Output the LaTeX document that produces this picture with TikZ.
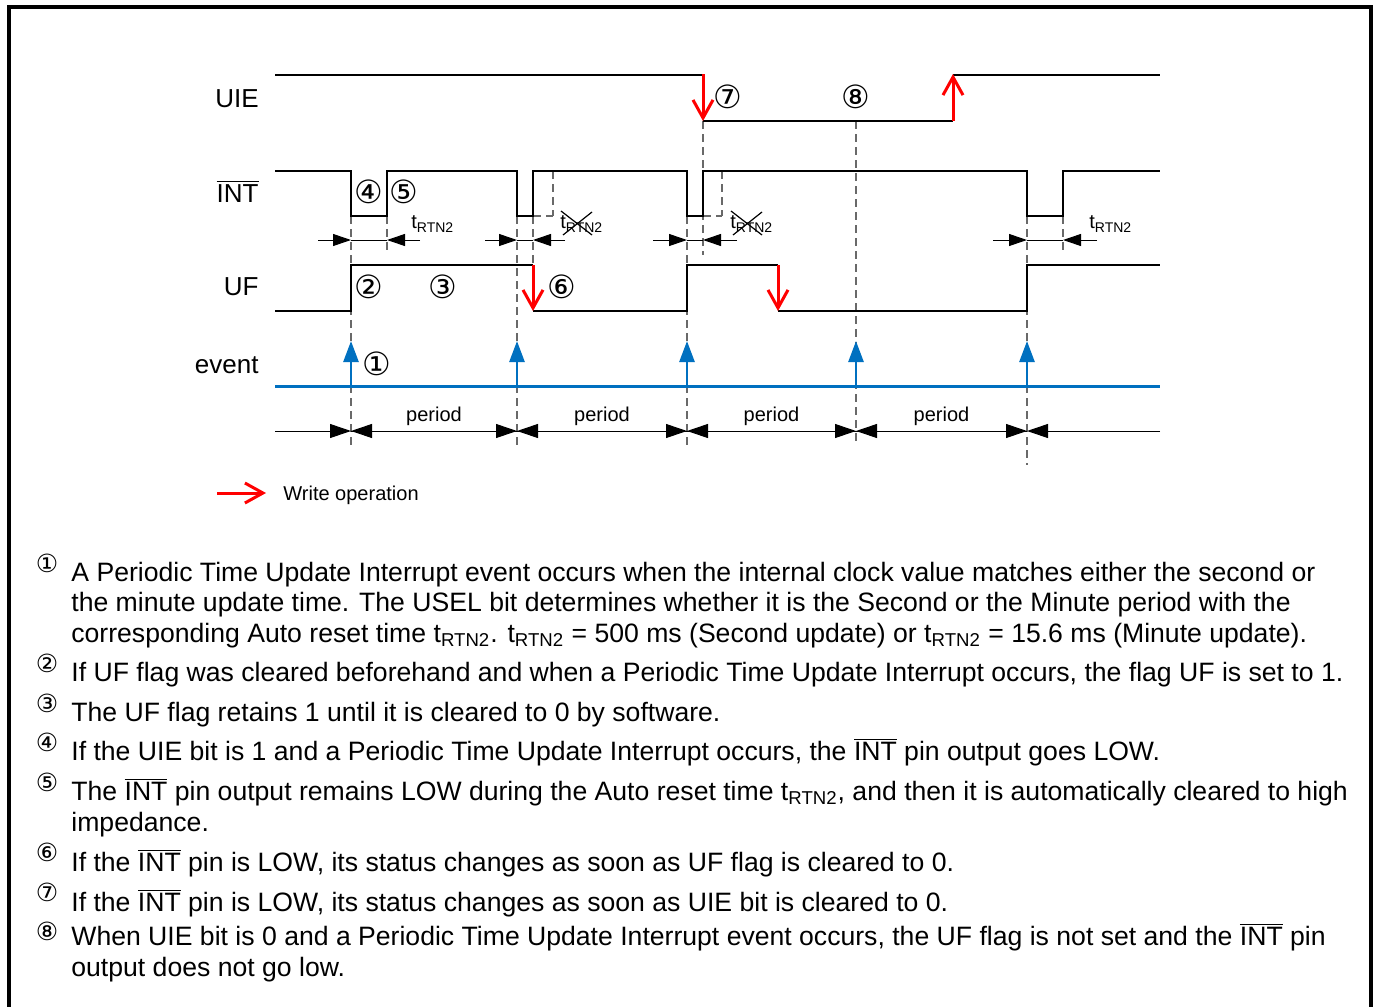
\documentclass[tikz,border=0pt]{standalone}
\usepackage{fontspec}
\setmainfont{Liberation Sans}
\newfontfamily\circfont{DejaVu Sans}
\usetikzlibrary{arrows.meta}
\definecolor{evblue}{RGB}{0,112,192}
\definecolor{guidegray}{RGB}{105,105,105}
\newcommand{\cnum}[1]{{\circfont #1}}
\newcommand{\intbar}{$\overline{\mbox{INT}}$}
\newcommand{\trtn}{t\textsubscript{RTN2}}
\newcommand{\trtnd}{{\fontsize{10}{12}\selectfont t}\raisebox{-2pt}{\fontsize{7}{8}\selectfont RTN2}}
\begin{document}
\begin{tikzpicture}[
  x=0.5pt, y=-0.5pt,
  sig/.style={line width=1.4pt},
  wr/.style={draw=red, line width=1.5pt, -{Straight Barb[length=9pt,width=10pt]}},
  ev/.style={draw=evblue, line width=1.3pt, -{Triangle[length=10.5pt,width=7.5pt]}},
  guide/.style={draw=guidegray, line width=0.7pt, dash pattern=on 3.75pt off 2.75pt},
  dimsmall/.style={line width=0.5pt, -{Triangle[length=9pt,width=6pt]}},
  dimbig/.style={line width=0.5pt, -{Triangle[length=10.5pt,width=7pt]}},
  lbl/.style={font=\fontsize{13}{15}\selectfont, anchor=base east, inner sep=0pt},
  cn/.style={font=\fontsize{16}{18}\selectfont\circfont, inner sep=0pt},
  cnb/.style={font=\fontsize{12.5}{14}\selectfont\circfont, inner sep=0pt},
  body/.style={font=\fontsize{13.3}{16}\selectfont, anchor=base west, inner sep=0pt},
  small/.style={font=\fontsize{10}{12}\selectfont, inner sep=0pt}
]
\useasboundingbox (0,0) rectangle (1377,1007);
\draw[line width=1.8pt] (9,1007) -- (9,7) -- (1371,7) -- (1371,1007);

\node[lbl] (uie) at (259,107) {UIE};
\node[lbl] (int) at (259,202) {\intbar};
\node[lbl] (uf) at (259,295) {UF};
\node[lbl] (event) at (259,373) {event};

\foreach \x/\ya/\yb in {351/216/445, 387/216/252, 517/216/445, 533/216/265, 687/216/445,
  703/121/255, 856/121/445, 1027/216/465, 1063/216/252, 553/171/216, 722/171/216}
  \draw[guide] (\x,\ya) -- (\x,\yb);
\draw[guide] (533,216) -- (553,216);
\draw[guide] (703,216) -- (722,216);

\draw[sig] (275,75) -- (703,75) (703,121) -- (953,121) (953,75) -- (1160,75);
\draw[sig] (275,171) -| (351,216) -| (387,171) -| (517,216) -| (533,171) -| (687,216)
  -| (703,171) -| (1027,216) -| (1063,171) -- (1160,171);
\draw[sig] (275,311) -| (351,265) -- (533,265) (533,311) -| (687,265) -- (778,265)
  (778,311) -| (1027,265) -- (1160,265);

\draw[wr] (703,74) -- (703,121);
\draw[wr] (953,121) -- (953,74);
\draw[wr] (533,265) -- (533,311);
\draw[wr] (778,265) -- (778,311);

\draw[draw=evblue, line width=1.5pt] (275,386) -- (1160,386);
\foreach \x in {351,517,687,856,1027}
  \draw[ev] (\x,386) -- (\x,341);

\foreach \l/\a/\b/\r in {318/351/387/420, 485/517/533/565, 653/687/703/737, 993/1027/1063/1097} {
  \draw[dimsmall] (\l,240) -- (\a,240);
  \draw[line width=0.5pt] (\a,240) -- (\b,240);
  \draw[dimsmall] (\r,240) -- (\b,240);
}
\node[anchor=base west, inner sep=0pt] (t1) at (411,228) {\trtnd};
\node[anchor=base west, inner sep=0pt] (t2) at (560,228) {\trtnd};
\node[anchor=base west, inner sep=0pt] (t3) at (730,228) {\trtnd};
\node[anchor=base west, inner sep=0pt] (t4) at (1089,228) {\trtnd};
\draw[line width=0.6pt] (561,211) -- (592,235) (563,235) -- (592,212);
\draw[line width=0.6pt] (731,211) -- (762,235) (733,235) -- (762,212);

\draw[dimbig] (275,431) -- (351,431);
\foreach \a/\b in {351/517, 517/687, 687/856, 856/1027} {
  \draw[dimbig] (\b,431) -- (\a,431);
  \draw[dimbig] (\a,431) -- (\b,431);
  \node[small, anchor=base] (p\a) at ({(\a+\b)/2},421) {period};
}
\draw[dimbig] (1160,431) -- (1027,431);

\node[cn] (c1) at (377,364) {①};
\node[cn] (c2) at (369,287) {②};
\node[cn] (c3) at (443,287) {③};
\node[cn] (c4) at (369,192) {④};
\node[cn] (c5) at (404,192) {⑤};
\node[cn] (c6) at (562,287) {⑥};
\node[cn] (c7) at (728,97) {⑦};
\node[cn] (c8) at (856,97) {⑧};

\draw[wr] (217,493) -- (266,493);
\node[small, anchor=base west] (legend) at (283,500) {Write operation};

\node[cnb] (b1) at (47,563) {①};
\node[cnb] (b2) at (47,663) {②};
\node[cnb] (b3) at (47,703) {③};
\node[cnb] (b4) at (47,742) {④};
\node[cnb] (b5) at (47,782) {⑤};
\node[cnb] (b6) at (47,852) {⑥};
\node[cnb] (b7) at (47,892) {⑦};
\node[cnb] (b8) at (47,931) {⑧};

\node[body] (n1a) at (71,581) {A Periodic Time Update Interrupt event occurs when the internal clock value matches either the second or};
\node[body] (n1b) at (71,611) {the minute update time. The USEL bit determines whether it is the Second or the Minute period with the};
\node[body] (n1c) at (71,642) {corresponding Auto reset time \trtn. \trtn{} = 500 ms (Second update) or \trtn{} = 15.6 ms (Minute update).};
\node[body] (n2) at (71,681) {If UF flag was cleared beforehand and when a Periodic Time Update Interrupt occurs, the flag UF is set to 1.};
\node[body] (n3) at (71,721) {The UF flag retains 1 until it is cleared to 0 by software.};
\node[body] (n4) at (71,760) {If the UIE bit is 1 and a Periodic Time Update Interrupt occurs, the \intbar{} pin output goes LOW.};
\node[body] (n5a) at (71,800) {The \intbar{} pin output remains LOW during the Auto reset time \trtn, and then it is automatically cleared to high};
\node[body] (n5b) at (71,831) {impedance.};
\node[body] (n6) at (71,871) {If the \intbar{} pin is LOW, its status changes as soon as UF flag is cleared to 0.};
\node[body] (n7) at (71,911) {If the \intbar{} pin is LOW, its status changes as soon as UIE bit is cleared to 0.};
\node[body] (n8a) at (71,945) {When UIE bit is 0 and a Periodic Time Update Interrupt event occurs, the UF flag is not set and the \intbar{} pin};
\node[body] (n8b) at (71,976) {output does not go low.};
\end{tikzpicture}
\end{document}
